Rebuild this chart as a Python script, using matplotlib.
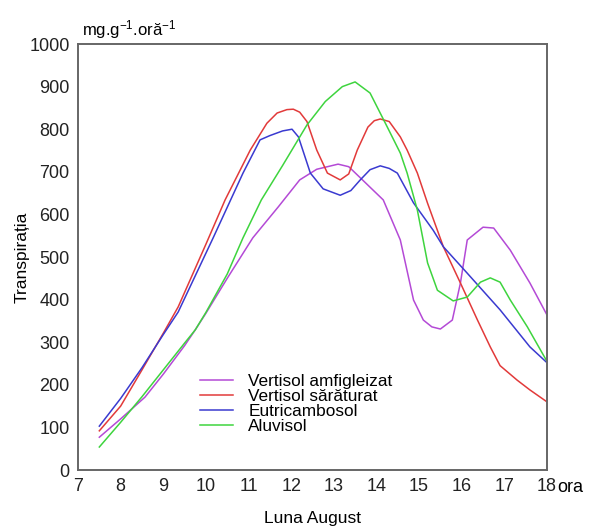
import matplotlib
matplotlib.use("Agg")
import matplotlib.pyplot as plt

plt.rcParams['font.family'] = ['Liberation Sans', 'DejaVu Sans']
plt.rcParams['mathtext.fontset'] = 'custom'
plt.rcParams['mathtext.rm'] = 'Liberation Sans'
plt.rcParams['mathtext.default'] = 'rm'

# Vertisol amfigleizat
x_amfi = [7.5, 8, 8.57, 9, 9.5, 9.75, 10, 10.5, 11.1, 11.7, 12.2, 12.6, 13.1, 13.35, 13.6,
          14.16, 14.56, 14.87, 15.1, 15.3, 15.5, 15.78, 15.97, 16.13, 16.5, 16.75, 17.14, 17.6, 18]
y_amfi = [77, 120, 171, 225, 292, 329, 368, 450, 545, 618, 681, 706, 718, 712, 688,
          634, 540, 399, 352, 336, 331, 352, 439, 540, 570, 568, 516, 439, 364]

# Vertisol saraturat
x_sar = [7.5, 8, 8.5, 9, 9.35, 10, 10.45, 11.04, 11.43, 11.67, 11.9, 12.05, 12.2, 12.37, 12.6, 12.85,
         13.15, 13.35, 13.55, 13.8, 13.95, 14.09, 14.3, 14.56, 14.72, 14.96, 15.2, 15.57, 15.97, 16.37,
         16.67, 16.9, 17.3, 17.6, 18]
y_sar = [92, 150, 235, 321, 383, 530, 634, 751, 814, 838, 846, 847, 840, 818, 751, 697,
         681, 695, 751, 805, 820, 824, 818, 782, 751, 697, 626, 524, 439, 352,
         289, 245, 211, 188, 160]

# Eutricambosol
x_eutri = [7.5, 8, 8.5, 9, 9.35, 10.17, 10.87, 11.27, 11.5, 11.8, 12.02, 12.17, 12.45, 12.75, 13.15,
           13.4, 13.62, 13.85, 14.09, 14.3, 14.49, 14.87, 15.33, 15.57, 16.13, 16.9, 17.6, 18]
y_eutri = [103, 168, 240, 318, 371, 545, 697, 775, 785, 796, 800, 782, 697, 660, 645,
           656, 681, 705, 714, 708, 697, 627, 563, 524, 462, 376, 289, 252]

# Aluvisol
x_aluv = [7.5, 8, 8.5, 9, 9.5, 9.75, 10, 10.5, 10.87, 11.3, 11.8, 12.37, 12.8, 13.2, 13.5,
          13.85, 14.25, 14.56, 14.72, 14.96, 15.2, 15.43, 15.8, 16.13, 16.44, 16.67, 16.9,
          17.14, 17.54, 18]
y_aluv = [54, 112, 172, 235, 298, 329, 370, 460, 545, 634, 715, 810, 865, 900, 911,
          885, 806, 744, 697, 610, 486, 422, 397, 406, 441, 451, 441,
          399, 336, 255]

series = [
    ("Vertisol amfigleizat", x_amfi, y_amfi, "#b44ad6"),
    ("Vertisol sărăturat", x_sar, y_sar, "#e23a3a"),
    ("Eutricambosol", x_eutri, y_eutri, "#3a3ad0"),
    ("Aluvisol", x_aluv, y_aluv, "#3ed43e"),
]

x_ticks = list(range(7, 19))
y_ticks = list(range(0, 1001, 100))

fig = plt.figure(figsize=(5.91, 5.29), dpi=100)
ax = fig.add_axes([0.132, 0.1115, 0.7935, 0.8053])

for label, xs, ys, col in series:
    ax.plot(xs, ys, color=col, lw=1.1, label=label)

ax.set_xlim(7, 18)
ax.set_ylim(0, 1000)
ax.set_xticks(x_ticks)
ax.set_yticks(y_ticks)
ax.tick_params(length=0, labelsize=13, pad=6, colors="#222222")
for sp in ax.spines.values():
    sp.set_color("#666666")
    sp.set_linewidth(1.4)

ax.set_ylabel("Transpirația", fontsize=12.5, labelpad=0)
ax.set_xlabel("Luna August", fontsize=12.5, labelpad=11)
ax.text(18.25, -40, "ora", fontsize=13, ha="left", va="center", clip_on=False)
ax.text(7.1, 1020, "mg.g$^{-1}$.oră$^{-1}$", fontsize=12, ha="left", va="baseline")

ax.legend(loc="upper left", bbox_to_anchor=(0.26, 0.225), frameon=False,
          fontsize=12.4, handlelength=1.9, handletextpad=0.9, labelspacing=0.0,
          borderpad=0, borderaxespad=0)

fig.savefig("out.png", dpi=100)
